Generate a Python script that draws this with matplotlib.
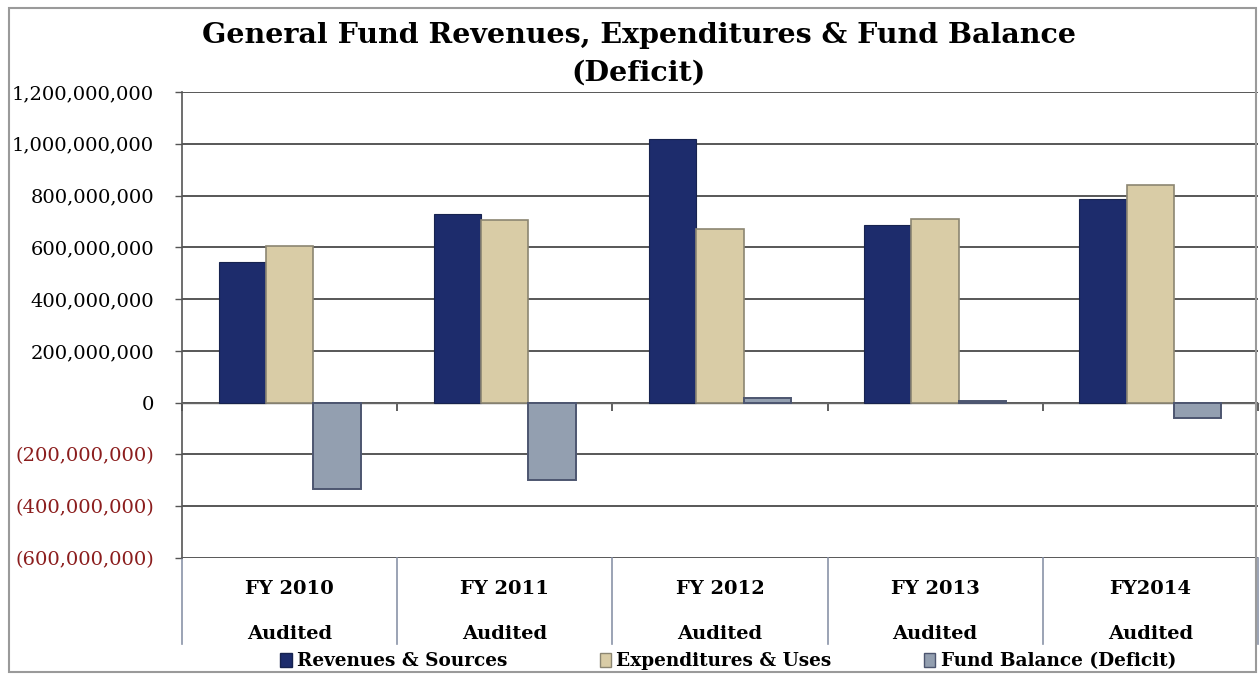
import numpy as np
import matplotlib
matplotlib.use("Agg")
import matplotlib.pyplot as plt
from matplotlib.patches import Rectangle
from matplotlib.ticker import FuncFormatter
import matplotlib.transforms as mtransforms

# data (dollars)
years = ["FY 2010", "FY 2011", "FY 2012", "FY 2013", "FY2014"]
status = ["Audited", "Audited", "Audited", "Audited", "Audited"]
revenues = [545e6, 730e6, 1020e6, 685e6, 785e6]
expenditures = [605e6, 705e6, 670e6, 710e6, 840e6]
fund_balance = [-335e6, -300e6, 20e6, 5e6, -60e6]
series_names = ["Revenues & Sources", "Expenditures & Uses", "Fund Balance (Deficit)"]
yticks = np.arange(-600e6, 1200e6 + 1, 200e6)

plt.rcParams['font.family'] = ['DejaVu Serif']

fig = plt.figure(figsize=(12.6, 6.75), dpi=100)
ax = fig.add_axes([0.1444, 0.1733, 0.854, 0.6904])

x = np.arange(len(years))
w = 0.22
ax.bar(x - w, revenues, w, color="#1d2c6c", edgecolor="#17234f", linewidth=0.8, zorder=3)
ax.bar(x, expenditures, w, color="#d9cca6", edgecolor="#8c8672", linewidth=1.2, zorder=3)
ax.bar(x + w, fund_balance, w, color="#939fb0", edgecolor="#4d5670", linewidth=1.4, zorder=3)

ax.set_xlim(-0.5, len(years) - 0.5)
ax.set_ylim(yticks[0], yticks[-1])
ax.set_yticks(yticks)

def fmt(v, pos):
    if v < 0:
        return "({:,.0f})".format(-v)
    return "{:,.0f}".format(v)

ax.yaxis.set_major_formatter(FuncFormatter(fmt))
ax.tick_params(axis='y', labelsize=14, length=5, width=1, color="#555555", pad=15)
for lbl, v in zip(ax.get_yticklabels(), yticks):
    if v < 0:
        lbl.set_color("#8b1d1d")

ax.yaxis.grid(True, color="#4a4a4a", linewidth=1.3, zorder=0)
ax.set_axisbelow(True)

for s in ["top", "right"]:
    ax.spines[s].set_visible(False)
ax.spines["left"].set_color("#555555")
ax.spines["left"].set_linewidth(1.2)
ax.spines["bottom"].set_position(("data", 0))
ax.spines["bottom"].set_color("#666666")
ax.spines["bottom"].set_linewidth(1.0)

ax.set_xticks(x)
ax.set_xticklabels([])
ax.tick_params(axis='x', which='major', length=0)
ax.set_xticks(np.arange(len(years) + 1) - 0.5, minor=True)
ax.tick_params(axis='x', which='minor', length=6, width=1.2, color="#444444", direction='out')

# category labels and dividers below the plot
trans = mtransforms.blended_transform_factory(ax.transData, ax.transAxes)
for i, (yr, st) in enumerate(zip(years, status)):
    ax.text(i, -0.067, yr, transform=trans, ha='center', va='center',
            fontsize=14, fontweight='bold')
    ax.text(i, -0.162, st, transform=trans, ha='center', va='center',
            fontsize=14, fontweight='bold')
for b in np.arange(len(years) + 1) - 0.5:
    ax.plot([b, b], [0, -0.185], transform=trans, color="#8a93a8",
            linewidth=1.2, clip_on=False)

fig.text(0.507, 0.948, "General Fund Revenues, Expenditures & Fund Balance",
         ha='center', va='center', fontsize=20.5, fontweight='bold')
fig.text(0.507, 0.892, "(Deficit)", ha='center', va='center',
         fontsize=20.5, fontweight='bold')

handles = [Rectangle((0, 0), 1, 1, facecolor="#1d2c6c", edgecolor="#17234f"),
           Rectangle((0, 0), 1, 1, facecolor="#d9cca6", edgecolor="#8c8672"),
           Rectangle((0, 0), 1, 1, facecolor="#939fb0", edgecolor="#4d5670")]
fig.legend(handles, series_names, loc='center', bbox_to_anchor=(0.578, 0.02),
           ncol=3, frameon=False, handlelength=0.6, handleheight=0.8,
           handletextpad=0.3, columnspacing=5.0,
           prop={'size': 13.3, 'weight': 'bold'})

fig.patches.append(Rectangle((0.007, 0.0045), 0.990, 0.984, transform=fig.transFigure,
                             fill=False, edgecolor="#9a9a9a", linewidth=1.5))

fig.savefig("out.png", dpi=100)
